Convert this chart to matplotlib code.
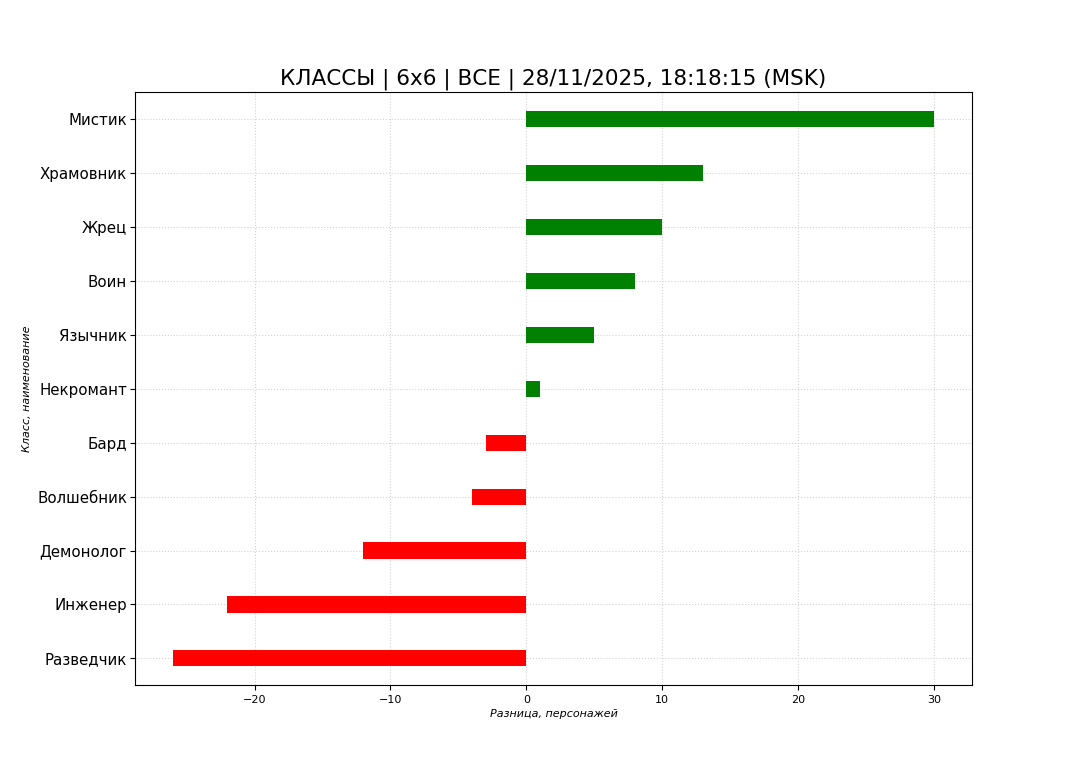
import matplotlib
matplotlib.use("Agg")
import matplotlib.pyplot as plt

classes = ["Разведчик", "Инженер", "Демонолог", "Волшебник", "Бард",
           "Некромант", "Язычник", "Воин", "Жрец", "Храмовник", "Мистик"]
diffs = [-26, -22, -12, -4, -3, 1, 5, 8, 10, 13, 30]
colors = ["green" if v > 0 else "red" for v in diffs]

title = "КЛАССЫ | 6x6 | ВСЕ | 28/11/2025, 18:18:15 (MSK)"

fig, ax = plt.subplots(figsize=(10.8, 7.7), dpi=100)
ax.barh(classes, diffs, height=0.3, color=colors, zorder=3)
ax.set_ylim(-0.5, len(classes) - 0.5)
ax.grid(True, linestyle=":", color="lightgray", linewidth=0.8, zorder=0)
ax.set_title(title, fontsize=15.5)
ax.set_xlabel("Разница, персонажей", fontsize=8, style="italic", labelpad=3)
ax.set_ylabel("Класс, наименование", fontsize=8, style="italic")
ax.tick_params(axis="x", labelsize=8)
ax.tick_params(axis="y", labelsize=10.8, pad=2.2)
fig.savefig("out.png", dpi=100)
